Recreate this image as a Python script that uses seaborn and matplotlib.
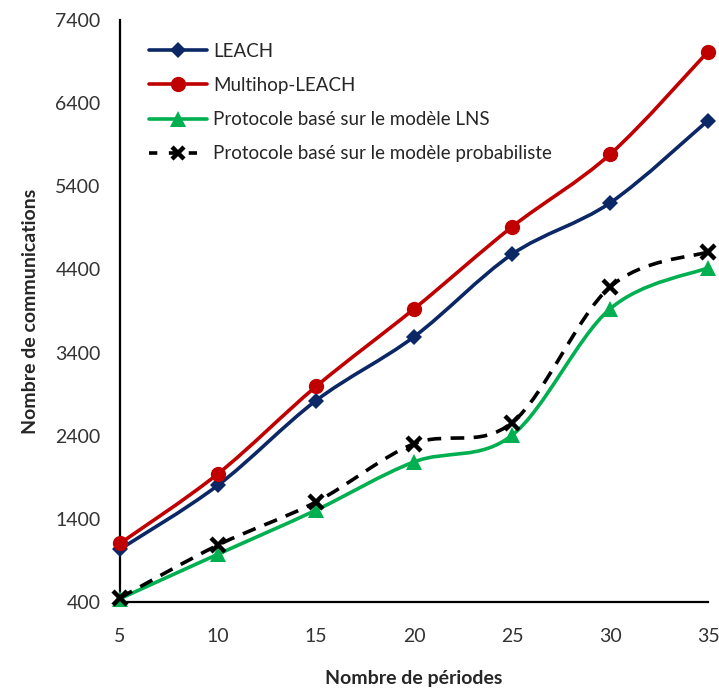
import numpy as np
import pandas as pd
import matplotlib
matplotlib.use("Agg")
import matplotlib.pyplot as plt
from matplotlib.path import Path
from matplotlib.patches import PathPatch
from matplotlib.lines import Line2D
import seaborn as sns

periods = [5, 10, 15, 20, 25, 30, 35]
leach = [1035, 1805, 2822, 3590, 4582, 5200, 6191]
multihop = [1105, 1943, 2992, 3925, 4912, 5784, 7019]
lns = [440, 975, 1505, 2085, 2405, 3925, 4420]
proba = [450, 1085, 1603, 2303, 2557, 4189, 4612]

series_names = ["LEACH", "Multihop-LEACH", "Protocole basé sur le modèle LNS",
                "Protocole basé sur le modèle probabiliste"]
series_vals = [leach, multihop, lns, proba]
colors = ["#0B2766", "#C00000", "#00B050", "#000000"]
markers = ["D", "o", "^", "x"]
msizes = [8, 11, 11, 10]
dashes = ["-", "-", "-", (0, (3.8, 2.6))]

yticks = [400, 1400, 2400, 3400, 4400, 5400, 6400, 7400]
xticks = [5, 10, 15, 20, 25, 30, 35]

sns.set_style("white")
plt.rcParams['font.family'] = ['Lato', 'DejaVu Sans']

fig = plt.figure(figsize=(7.19, 6.91), dpi=100)
ax = fig.add_axes([120 / 719, 1 - 602 / 691, 588 / 719, 582 / 691])


def smooth_path(xs, ys):
    pts = np.column_stack([xs, ys]).astype(float)
    n = len(pts)
    verts = [pts[0]]
    codes = [Path.MOVETO]
    for i in range(n - 1):
        p0 = pts[i - 1] if i > 0 else pts[i]
        p1 = pts[i]
        p2 = pts[i + 1]
        p3 = pts[i + 2] if i + 2 < n else pts[i + 1]
        c1 = p1 + (p2 - p0) / 6.0
        c2 = p2 - (p3 - p1) / 6.0
        verts += [c1, c2, p2]
        codes += [Path.CURVE4] * 3
    return Path(verts, codes)


df = pd.DataFrame({"x": periods * 4,
                   "y": sum(series_vals, []),
                   "s": sum([[n] * len(periods) for n in series_names], [])})

handles = []
for name, vals, c, m, ms, ls in zip(series_names, series_vals, colors, markers, msizes, dashes):
    patch = PathPatch(smooth_path(periods, vals), facecolor="none", edgecolor=c,
                      lw=2.6, linestyle=ls, zorder=2, capstyle="butt")
    ax.add_patch(patch)
    sub = df[df.s == name]
    if m == "x":
        sns.lineplot(data=sub, x="x", y="y", ax=ax, linestyle="", marker="x",
                     markersize=ms, markeredgewidth=3.2, color=c,
                     markeredgecolor=c, zorder=3, clip_on=False)
        h = Line2D([], [], color=c, lw=2.6, linestyle=(0, (2.3, 3.2)), marker="x",
                   markersize=8, markeredgewidth=3.2)
    else:
        sns.lineplot(data=sub, x="x", y="y", ax=ax, linestyle="", marker=m,
                     markersize=ms, markeredgewidth=0, color=c,
                     markeredgecolor=c, zorder=3, clip_on=False)
        h = Line2D([], [], color=c, lw=2.6, marker=m, markersize=ms, markeredgewidth=0)
    handles.append(h)

ax.set_xlim(5, 35)
ax.set_ylim(400, 7400)
ax.set_xticks(xticks)
ax.set_yticks(yticks)
ax.set_xticklabels([str(v) for v in xticks])
ax.set_yticklabels([str(v) for v in yticks])

for side in ["top", "right"]:
    ax.spines[side].set_visible(False)
for side in ["left", "bottom"]:
    ax.spines[side].set_linewidth(1.6)
    ax.spines[side].set_color("black")
    ax.spines[side].set_zorder(1)

ax.tick_params(axis="x", direction="inout", length=10, width=1.6, pad=14,
               labelsize=14, labelcolor="#333333", color="black")
ax.tick_params(axis="y", direction="out", length=5, width=1.6, pad=9,
               labelsize=14, labelcolor="#333333", color="black")

ax.set_xlabel("Nombre de périodes", fontsize=14, fontweight="bold", labelpad=18)
ax.set_ylabel("Nombre de communications", fontsize=14, fontweight="bold", labelpad=12)

leg = ax.legend(handles, series_names, loc="upper left", bbox_to_anchor=(0.02, 0.99),
                frameon=False, fontsize=13.5, handlelength=3.1, labelspacing=0.92,
                handletextpad=0.35)

fig.savefig("out.png", dpi=100)
